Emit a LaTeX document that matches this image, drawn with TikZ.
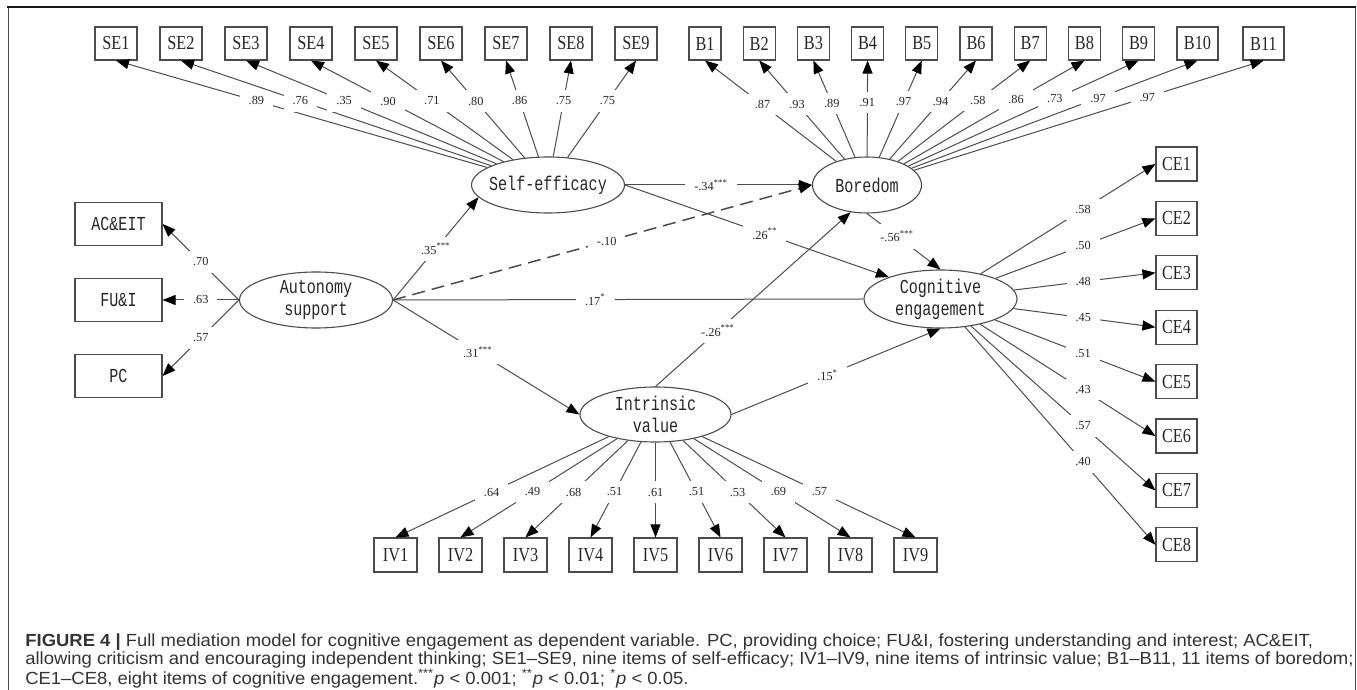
\documentclass[tikz,border=0pt]{standalone}
\usepackage{fontspec}
\setmainfont{Liberation Serif}
\newfontfamily\latentfont[FakeStretch=0.76]{Liberation Mono}
\newfontfamily\itemfont[FakeStretch=0.82]{Liberation Serif}
\newfontfamily\capfont[FakeStretch=1.05]{Liberation Sans}
\usetikzlibrary{shapes.geometric,arrows.meta}
\definecolor{lgray}{gray}{0.3}
\definecolor{captext}{gray}{0.2}

\tikzset{
  latent/.style={draw=lgray, ellipse, line width=0.22mm, minimum width=30.6mm,
    minimum height=11.2mm, inner xsep=-2mm, inner ysep=0pt, align=center,
    text=black!85, font=\latentfont\fontsize{11.3}{12.5}\selectfont},
  obs/.style={draw=lgray, line width=0.22mm, minimum width=8.4mm, minimum height=6.6mm,
    inner sep=0pt, text=black!85, font=\itemfont\fontsize{11.3}{12.5}\selectfont},
  reg/.style={draw=lgray, line width=0.2mm, -{Triangle[length=2.6mm,width=2mm,color=black]}},
  coef/.style={fill=white, inner xsep=1.8mm, inner ysep=1.3mm, text=black!85,
    font=\fontsize{7}{8}\selectfont},
}

\begin{document}
\begin{tikzpicture}[x=0.2mm, y=-0.2mm]
\useasboundingbox (0,0) rectangle (1357,690);
% frame
\draw[lgray, line width=0.2mm] (8,7.5) -- (8,690);
\draw[lgray, line width=0.2mm] (1355,7.5) -- (1355,690);
\draw[black!90, line width=0.4mm] (7,7.5) -- (1356,7.5);

% latent variables
\node[latent] (se) at (548,185) {Self-efficacy};
\node[latent, minimum width=21.8mm] (bo) at (867,185) {Boredom};
\node[latent] (as) at (316,300) {Autonomy\\support};
\node[latent, minimum height=11.6mm] (ce) at (940.5,299) {Cognitive\\engagement};
\node[latent, minimum width=30.2mm, minimum height=11mm] (iv) at (655.5,414.5) {Intrinsic\\value};

% indicators
\foreach \i in {1,...,9}
  \node[obs] (SE\i) at ({116+65*(\i-1)},43.5) {SE\i};
\foreach \i in {1,...,9}
  \node[obs, minimum width=6.4mm] (B\i) at ({705+54.2*(\i-1)},43.5) {B\i};
\node[obs, minimum width=8.2mm] (B10) at (1197.5,43.5) {B10};
\node[obs, minimum width=8.2mm] (B11) at (1263.5,43.5) {B11};
\foreach \i in {1,...,9}
  \node[obs, minimum width=8.6mm, minimum height=6.8mm] (IV\i) at ({395.5+65*(\i-1)},555) {IV\i};
\foreach \i in {1,...,8}
  \node[obs, minimum width=8.2mm, minimum height=6.8mm] (CE\i) at (1176.5,{164+54.4*(\i-1)}) {CE\i};
\node[obs, minimum width=17.4mm, minimum height=8.6mm, font=\latentfont\fontsize{11.3}{12.5}\selectfont] (AC) at (118.5,224) {AC\&EIT};
\node[obs, minimum width=17.4mm, minimum height=8.6mm, font=\latentfont\fontsize{11.3}{12.5}\selectfont] (FU) at (118.5,300) {FU\&I};
\node[obs, minimum width=17.4mm, minimum height=8.6mm, font=\latentfont\fontsize{11.3}{12.5}\selectfont] (PC) at (118.5,376) {PC};

% loadings
\foreach \i/\v in {1/.89,2/.76,3/.35,4/.90,5/.71,6/.80,7/.86,8/.75,9/.75}{
  \draw[reg] (se) -- (SE\i.south);
  \node[coef] (se-l\i) at (intersection of se--SE\i.south and 0,101--10,101) {\v};
}
\foreach \i/\v in {1/.87,2/.93,3/.89,4/.91,5/.97,6/.94,7/.58,8/.86,9/.73,10/.97,11/.97}{
  \draw[reg] (bo) -- (B\i.south);
  \node[coef] (bo-l\i) at (intersection of bo--B\i.south and 700,106--1200,96) {\v};
}
\foreach \i/\v in {1/.64,2/.49,3/.68,4/.51,5/.61,6/.51,7/.53,8/.69,9/.57}{
  \draw[reg] (iv) -- (IV\i.north);
  \node[coef] (iv-l\i) at (intersection of iv--IV\i.north and 0,492--10,492) {\v};
}
\foreach \i/\v in {1/.58,2/.50,3/.48,4/.45,5/.51,6/.43,7/.57,8/.40}{
  \draw[reg] (ce) -- (CE\i.west);
  \node[coef] (ce-l\i) at (intersection of ce--CE\i.west and 1083,0--1083,10) {\v};
}
\draw[reg] (as.west) -- node[coef] (as-l1) {.70} (AC.east);
\draw[reg] (as.west) -- node[coef] (as-l2) {.63} (FU.east);
\draw[reg] (as.west) -- node[coef] (as-l3) {.57} (PC.east);

% structural paths
\draw[reg] (se) -- node[coef, pos=.46] (p1) {-.34\textsuperscript{***}} (bo);
\draw[reg] (as.east) -- node[coef, pos=.5] (p2) {.35\textsuperscript{***}} (se.190);
\draw[reg, line width=0.3mm, dash pattern=on 2.6mm off 1.4mm] (as.east) -- node[coef, pos=.51] (p3) {-.10} (bo.west);
\draw[lgray, line width=0.2mm] (as.east) -- node[coef, pos=.43] (p4) {.17\textsuperscript{*}} (ce.west);
\draw[reg] (as.east) -- node[coef, pos=.455] (p5) {.31\textsuperscript{***}} (iv.west);
\draw[reg] (se.east) -- node[coef, pos=.53] (p6) {.26\textsuperscript{**}} (ce.157);
\draw[reg] (bo.south) -- node[coef, pos=.41] (p7) {-.56\textsuperscript{***}} (ce.north);
\draw[reg] (iv.north) -- node[coef, pos=.32] (p8) {-.26\textsuperscript{***}} (bo.239);
\draw[reg] (iv.east) -- node[coef, pos=.46] (p9) {.15\textsuperscript{*}} (ce.south);

% caption
\node[anchor=north west, align=left, inner sep=0pt, text=captext,
  font=\capfont\fontsize{10}{10.2}\selectfont] (cap) at (25,633)
  {\textbf{FIGURE 4 |} Full mediation model for cognitive engagement as dependent variable. PC, providing choice; FU\&I, fostering understanding and interest; AC\&EIT,\\
   allowing criticism and encouraging independent thinking; SE1–SE9, nine items of self-efficacy; IV1–IV9, nine items of intrinsic value; B1–B11, 11 items of boredom;\\
   CE1–CE8, eight items of cognitive engagement.\textsuperscript{***}\textit{p} < 0.001; \textsuperscript{**}\textit{p} < 0.01; \textsuperscript{*}\textit{p} < 0.05.};
\end{tikzpicture}
\end{document}
